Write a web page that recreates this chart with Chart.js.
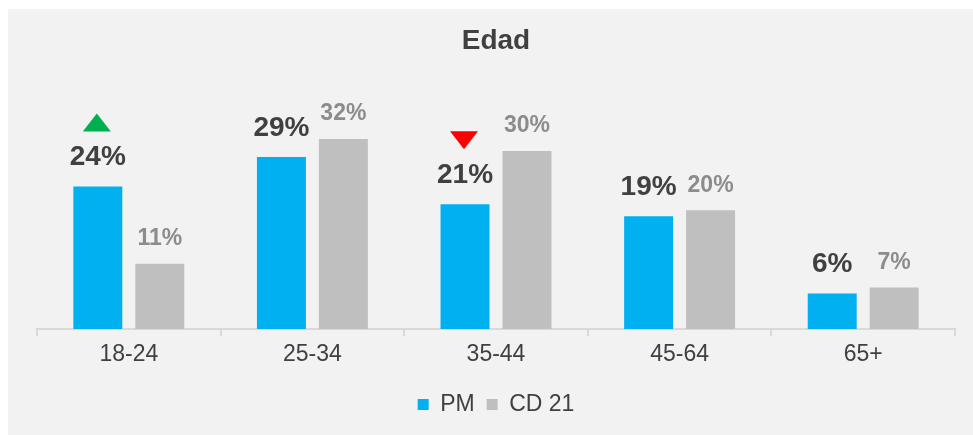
<!DOCTYPE html>
<html>
<head>
<meta charset="utf-8">
<script src="https://cdn.jsdelivr.net/npm/chart.js@4"></script>
<style>
  html, body { margin: 0; padding: 0; background: #ffffff; }
  .panel {
    position: absolute;
    left: 8px;
    top: 9px;
    width: 965px;
    height: 426px;
    background: #f2f2f2;
  }
</style>
</head>
<body>
<div class="panel">
  <canvas id="edadChart" width="965" height="426"></canvas>
</div>
<script>
const categories = ["18-24", "25-34", "35-44", "45-64", "65+"];
const pmValues = [24, 29, 21, 19, 6];
const cdValues = [11, 32, 30, 20, 7];
// flecha sobre la barra PM: "up", "down" o ""
const pmMarkers = ["up", "", "down", "", ""];

const darkText = "#404040";
const grayText = "#8c8c8c";

// etiquetas de valor y flechas encima de las barras
const labelsPlugin = {
  id: "valueLabels",
  afterDatasetsDraw(chart) {
    const ctx = chart.ctx;
    ctx.save();
    ctx.textAlign = "center";
    ctx.textBaseline = "middle";
    chart.data.datasets.forEach((ds, i) => {
      const meta = chart.getDatasetMeta(i);
      meta.data.forEach((bar, j) => {
        if (i === 0) {
          ctx.font = "bold 28px 'Liberation Sans', Arial, sans-serif";
          ctx.fillStyle = darkText;
          ctx.fillText(ds.data[j] + "%", bar.x, bar.y - 29);
        } else {
          ctx.font = "bold 23px 'Liberation Sans', Arial, sans-serif";
          ctx.fillStyle = grayText;
          ctx.fillText(ds.data[j] + "%", bar.x, bar.y - 25);
        }
      });
    });

    const pmMeta = chart.getDatasetMeta(0);
    pmMeta.data.forEach((bar, j) => {
      const m = pmMarkers[j];
      if (!m) return;
      const cx = bar.x - 1;
      const top = bar.y - 73;
      const bottom = bar.y - 55;
      ctx.beginPath();
      if (m === "up") {
        ctx.fillStyle = "#00b050";
        ctx.moveTo(cx - 14, bottom);
        ctx.lineTo(cx + 14, bottom);
        ctx.lineTo(cx, top);
      } else {
        ctx.fillStyle = "#ff0000";
        ctx.moveTo(cx - 14, top);
        ctx.lineTo(cx + 14, top);
        ctx.lineTo(cx, bottom);
      }
      ctx.closePath();
      ctx.fill();
    });
    ctx.restore();
  },
};

const data = {
  labels: categories,
  datasets: [
    {
      label: "PM",
      data: pmValues,
      backgroundColor: "#00b0f0",
      categoryPercentage: 0.675,
      barPercentage: 0.79,
    },
    {
      label: "CD 21",
      data: cdValues,
      backgroundColor: "#bfbfbf",
      categoryPercentage: 0.675,
      barPercentage: 0.79,
    },
  ],
};

const config = {
  type: "bar",
  data: data,
  options: {
    responsive: false,
    animation: false,
    layout: {
      padding: { left: 29, right: 18, top: 0, bottom: 9 },
    },
    scales: {
      x: {
        grid: {
          drawOnChartArea: false,
          drawTicks: true,
          tickLength: 7,
          color: "#d9d9d9",
          lineWidth: 2,
        },
        border: { color: "#d9d9d9", width: 2 },
        ticks: {
          color: darkText,
          padding: 5,
          font: { family: "'Liberation Sans', Arial, sans-serif", size: 23 },
        },
        afterFit(scale) {
          scale.height = 52;
        },
      },
      y: {
        display: false,
        min: 0,
        max: 40,
      },
    },
    plugins: {
      title: {
        display: true,
        text: "Edad",
        color: darkText,
        font: { family: "'Liberation Sans', Arial, sans-serif", size: 28, weight: "bold" },
        padding: { top: 15, bottom: 34 },
      },
      legend: {
        position: "bottom",
        labels: {
          color: darkText,
          boxWidth: 11,
          boxHeight: 11,
          padding: 12,
          font: { family: "'Liberation Sans', Arial, sans-serif", size: 23 },
        },
      },
      tooltip: { enabled: false },
    },
  },
  plugins: [labelsPlugin],
};

const edadChart = new Chart(document.getElementById("edadChart"), config);
</script>
</body>
</html>
